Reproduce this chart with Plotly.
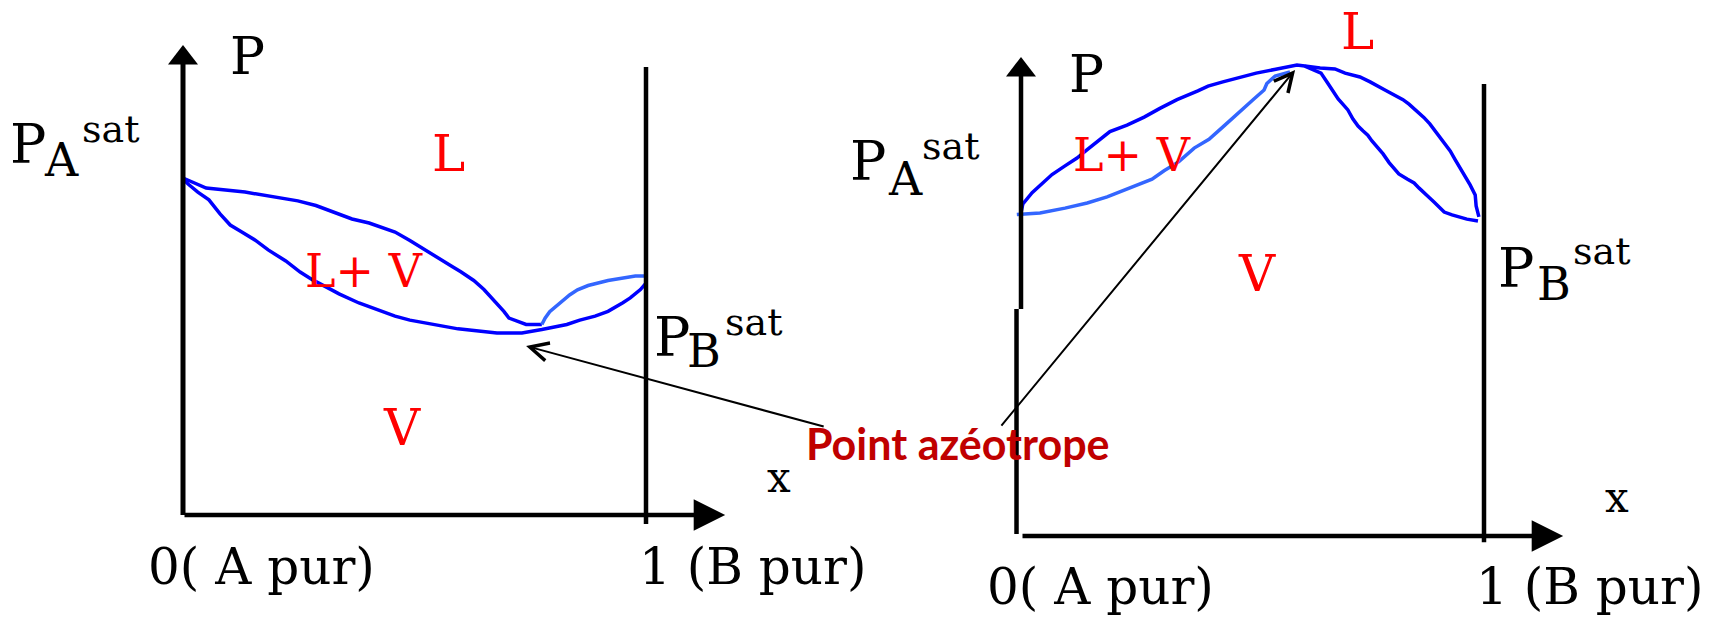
import plotly.graph_objects as go

W, H = 1717, 617

# ---------------- data: left diagram (minimum-pressure azeotrope) ----------------
# x = mole fraction of B, P in units of P_A^sat
L_BUB_X = [0, 0.050, 0.134, 0.199, 0.248, 0.287, 0.313, 0.335, 0.365, 0.402, 0.434, 0.458,
           0.490, 0.523, 0.555, 0.583, 0.600, 0.628, 0.650, 0.672, 0.693, 0.704, 0.741, 0.775]
L_BUB_P = [1.003, 0.973, 0.961, 0.946, 0.935, 0.921, 0.908, 0.896, 0.881, 0.869, 0.855, 0.842,
           0.817, 0.790, 0.763, 0.738, 0.724, 0.698, 0.671, 0.638, 0.606, 0.586, 0.567, 0.567]
L_BUB2_X = [0.775, 0.782, 0.792, 0.808, 0.824, 0.835, 0.852, 0.875, 0.918, 0.977, 1.0]
L_BUB2_P = [0.567, 0.586, 0.605, 0.624, 0.644, 0.655, 0.670, 0.683, 0.698, 0.711, 0.711]
L_DEW_X = [0, 0.011, 0.032, 0.056, 0.080, 0.102, 0.127, 0.156, 0.184, 0.222, 0.253, 0.281,
           0.317, 0.337, 0.380, 0.428, 0.458, 0.490, 0.538, 0.594, 0.678, 0.732, 0.775,
           0.829, 0.857, 0.890, 0.918, 0.935, 0.950, 0.966, 0.977, 0.988, 1.0]
L_DEW_P = [1.0, 0.985, 0.961, 0.938, 0.896, 0.863, 0.842, 0.818, 0.789, 0.756, 0.723, 0.699,
           0.673, 0.658, 0.631, 0.607, 0.592, 0.580, 0.567, 0.554, 0.542, 0.542, 0.552,
           0.567, 0.580, 0.592, 0.606, 0.619, 0.632, 0.646, 0.658, 0.671, 0.690]

# ---------------- data: right diagram (maximum-pressure azeotrope) ----------------
R_BUB_X = [0, 0.004, 0.024, 0.045, 0.067, 0.095, 0.121, 0.143, 0.171, 0.192, 0.229, 0.266,
           0.300, 0.337, 0.382, 0.404, 0.436, 0.473, 0.508, 0.553, 0.596, 0.613, 0.646, 0.678,
           0.700, 0.732, 0.754, 0.786, 0.808, 0.825, 0.838, 0.849, 0.860, 0.870, 0.883, 0.894,
           0.905, 0.916, 0.927, 0.937, 0.948, 0.959, 0.970, 0.981, 0.983, 0.989]
R_BUB_P = [1.0, 1.028, 1.063, 1.091, 1.119, 1.146, 1.170, 1.196, 1.227, 1.252, 1.272, 1.297,
           1.324, 1.351, 1.378, 1.393, 1.406, 1.421, 1.433, 1.446, 1.458, 1.455, 1.449, 1.446,
           1.433, 1.421, 1.406, 1.381, 1.365, 1.351, 1.337, 1.323, 1.310, 1.296, 1.276, 1.254,
           1.234, 1.214, 1.192, 1.167, 1.141, 1.115, 1.087, 1.056, 1.022, 0.988]
R_DEW_X = [-0.009, 0.041, 0.095, 0.143, 0.186, 0.233, 0.283, 0.309, 0.341, 0.374, 0.406,
           0.438, 0.471, 0.503, 0.525, 0.531, 0.549, 0.581]
R_DEW_P = [0.995, 1.0, 1.015, 1.031, 1.050, 1.077, 1.105, 1.131, 1.159, 1.201, 1.228,
           1.269, 1.310, 1.353, 1.381, 1.401, 1.424, 1.437]
R_DEW2_X = [0.613, 0.648, 0.663, 0.674, 0.685, 0.695, 0.706, 0.717, 0.728, 0.739, 0.749,
            0.758, 0.771, 0.782, 0.795, 0.806, 0.816, 0.834, 0.849, 0.860, 0.870, 0.881,
            0.892, 0.903, 0.914, 0.931, 0.963, 0.987]
R_DEW2_P = [1.455, 1.433, 1.401, 1.375, 1.353, 1.337, 1.319, 1.291, 1.269, 1.254, 1.241,
            1.223, 1.201, 1.183, 1.156, 1.136, 1.121, 1.105, 1.093, 1.077, 1.065, 1.049,
            1.034, 1.018, 1.003, 0.994, 0.981, 0.975]

# text labels
TICK_LEFT = "0( A pur)"
TICK_RIGHT = "1 (B pur)"
AZEO_LABEL = "Point azéotrope"

# ---------------- geometry (pixel anchors of each diagram) ----------------
LX0, LXS, LY0, LYS = 183, 463, 515, 336
RX0, RXS, RY0, RYS = 1021, 463, 536, 323

DARK = "#0000ff"
LIGHT = "#3366ff"
RED = "#ff0000"
SERIF = "DejaVu Serif"

fig = go.Figure()


def line(x, p, color, width, right=False):
    fig.add_trace(go.Scatter(x=x, y=p, mode="lines", line=dict(color=color, width=width),
                             xaxis="x2" if right else "x", yaxis="y2" if right else "y",
                             hoverinfo="skip", showlegend=False))


# curves
line(L_BUB_X, L_BUB_P, DARK, 3.5)
line(L_BUB2_X, L_BUB2_P, LIGHT, 3.5)
line(L_DEW_X, L_DEW_P, DARK, 3.5)
line(R_BUB_X, R_BUB_P, DARK, 3.5, True)
line(R_DEW_X, R_DEW_P, LIGHT, 3.5, True)
line(R_DEW2_X, R_DEW2_P, DARK, 3.5, True)

# axes frames (left)
line([0, 0], [0, 1.36], "black", 5)
line([1, 1], [-0.027, 1.333], "black", 4.5)
# axes frames (right) – the vertical axis is drawn in two slightly offset pieces
line([0, 0], [0.703, 1.44], "black", 4.5, True)
line([-0.0097, -0.0097], [0.006, 0.703], "black", 4.5, True)
line([1, 1], [-0.019, 1.399], "black", 4.5, True)

# vertical arrowheads
fig.add_trace(go.Scatter(x=[0], y=[1.36], mode="markers",
                         marker=dict(symbol="triangle-up", size=26, color="black", line=dict(width=0)),
                         hoverinfo="skip", showlegend=False))
fig.add_trace(go.Scatter(x=[0], y=[1.443], mode="markers", xaxis="x2", yaxis="y2",
                         marker=dict(symbol="triangle-up", size=26, color="black", line=dict(width=0)),
                         hoverinfo="skip", showlegend=False))

ann = []


def arrow(x0, y0, x1, y1, right=False, head=2, width=4.5, size=1.4):
    xr = "x2" if right else "x"
    yr = "y2" if right else "y"
    ann.append(dict(x=x1, y=y1, ax=x0, ay=y0, xref=xr, yref=yr, axref=xr, ayref=yr,
                    text="", showarrow=True, arrowhead=head, arrowwidth=width,
                    arrowsize=size, arrowcolor="black", standoff=0))


# horizontal axes with arrowheads
arrow(0, 0, 1.171, 0)
arrow(0, 0, 1.171, 0, right=True)
# arrows pointing to the azeotropes
arrow(1.387, 0.262, 0.741, 0.503, head=5, width=2, size=1.8)
arrow(-0.045, 0.337, 0.592, 1.443, right=True, head=5, width=2, size=1.8)


def txt(px, py, text, size, color="black", family=SERIF, bold=False):
    ann.append(dict(x=px / W, y=1 - py / H, xref="paper", yref="paper", text=text,
                    showarrow=False, xanchor="center", yanchor="middle",
                    font=dict(family=family, size=size, color=color,
                              weight="bold" if bold else "normal")))


# left diagram labels
txt(247, 56, "P", 52)
txt(28, 144, "P", 54)
txt(61.5, 160, "A", 46)
txt(111, 129, "sat", 38)
txt(448, 154, "L", 50, RED)
txt(364, 271, "L+ V", 46, RED)
txt(402, 428, "V", 50, RED)
txt(779, 477.5, "x", 42)
txt(672, 337, "P", 54)
txt(703.5, 351, "B", 46)
txt(753, 322, "sat", 38)
txt(261, 567, TICK_LEFT, 50)
txt(752, 567, TICK_RIGHT, 50)

# right diagram labels
txt(1086, 74, "P", 52)
txt(1357, 32, "L", 50, RED)
txt(868, 162, "P", 54)
txt(905.5, 179, "A", 46)
txt(950.5, 146, "sat", 38)
txt(1131.5, 155, "L+ V", 46, RED)
txt(1257, 274, "V", 50, RED)
txt(1516, 268, "P", 54)
txt(1554, 284, "B", 46)
txt(1601.5, 251, "sat", 38)
txt(1617, 497.5, "x", 42)
txt(1100, 587, TICK_LEFT, 50)
txt(1589, 587, TICK_RIGHT, 50)

# azeotrope caption
txt(958, 443, AZEO_LABEL, 43, "#c00000", family="Lato", bold=True)

ax_common = dict(visible=False, showgrid=False, zeroline=False, fixedrange=True, domain=[0, 1])
fig.update_layout(
    width=W, height=H, autosize=False,
    margin=dict(l=0, r=0, t=0, b=0, pad=0),
    paper_bgcolor="white", plot_bgcolor="white",
    showlegend=False,
    xaxis=dict(ax_common, range=[-LX0 / LXS, (W - LX0) / LXS]),
    yaxis=dict(ax_common, range=[(LY0 - H) / LYS, LY0 / LYS]),
    xaxis2=dict(ax_common, range=[-RX0 / RXS, (W - RX0) / RXS], overlaying="x", anchor="y2"),
    yaxis2=dict(ax_common, range=[(RY0 - H) / RYS, RY0 / RYS], overlaying="y", anchor="x2"),
    annotations=ann,
)

fig.write_html("out.html", config={"displayModeBar": False},
               post_script="document.body.style.margin='0';document.body.style.overflow='hidden';")
